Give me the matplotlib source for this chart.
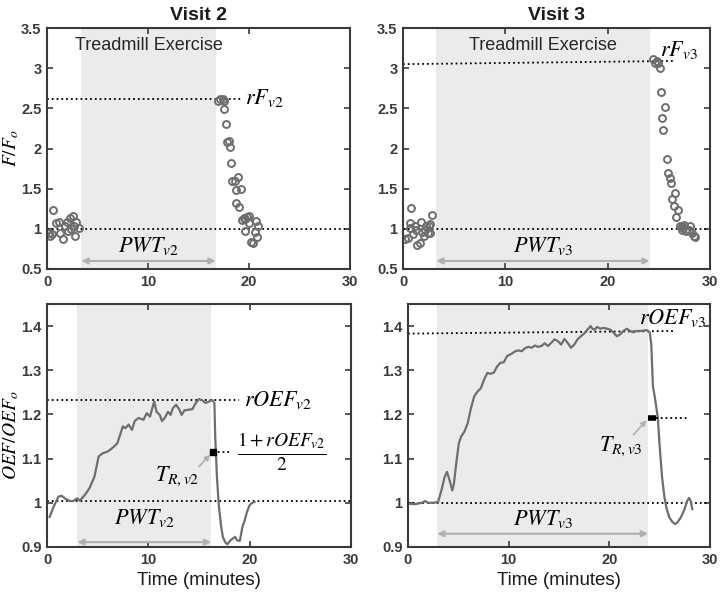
import numpy as np
import matplotlib
matplotlib.use('Agg')
import matplotlib.pyplot as plt

plt.rcParams['font.family'] = ['Liberation Sans', 'DejaVu Sans']
plt.rcParams['mathtext.fontset'] = 'stix'

# ---- data ----
# Visit 2, F/Fo scatter
f2_x = [0.16, 0.32, 0.49, 0.58, 0.91, 1.23, 1.30, 1.56, 1.79, 1.95, 2.10, 2.27, 2.40,
        2.60, 2.66, 2.76, 2.92, 3.18,
        16.9, 17.1, 17.4, 17.5, 17.5, 17.7, 17.8, 18.0, 18.1, 18.2, 18.3, 18.6, 18.7,
        18.9, 19.2, 18.7, 19.0, 19.3, 19.5, 19.6, 19.6, 19.8, 20.0, 20.0, 20.2, 20.4,
        20.6, 20.7, 20.8, 20.9]
f2_y = [0.95, 0.91, 0.93, 1.24, 1.07, 1.09, 0.95, 0.87, 1.03, 1.09, 0.97, 1.13, 1.00,
        1.16, 1.03, 0.91, 1.08, 1.01,
        2.59, 2.62, 2.62, 2.59, 2.49, 2.30, 2.08, 2.09, 2.02, 1.82, 1.59, 1.59, 1.48,
        1.65, 1.49, 1.32, 1.27, 1.11, 1.13, 0.97, 1.12, 1.15, 1.07, 1.16, 0.83, 0.82,
        0.96, 1.10, 0.90, 1.04]

# Visit 3, F/Fo scatter
f3_x = [0.16, 0.49, 0.65, 0.82, 0.72, 0.98, 1.14, 1.24, 1.37, 1.63, 1.79, 1.89, 2.02,
        2.12, 2.28, 2.45, 2.54, 2.60, 2.67, 2.87,
        24.45, 24.6, 24.8, 24.9, 25.1, 25.2, 25.6, 25.3, 25.4, 25.8, 25.9, 26.1, 26.2,
        26.6, 26.3, 26.5, 26.9, 26.7, 27.1, 27.3, 27.3, 27.4, 27.5, 27.7, 27.9, 28.0,
        28.2, 28.4, 28.5]
f3_y = [0.87, 0.89, 1.01, 1.26, 1.07, 0.93, 1.03, 0.99, 0.80, 0.82, 1.08, 0.96, 0.91,
        0.99, 1.03, 0.95, 1.03, 0.95, 1.06, 1.17,
        3.11, 3.07, 3.09, 3.06, 3.00, 2.70, 2.52, 2.38, 2.23, 1.87, 1.69, 1.63, 1.57,
        1.45, 1.37, 1.28, 1.23, 1.15, 1.04, 1.03, 0.99, 1.01, 1.05, 0.97, 0.99, 1.03,
        0.95, 0.91, 0.90]

# Visit 2, OEF/OEFo trace
o2_t = [0.26, 0.65, 1.13, 1.45, 1.77, 2.26, 2.58, 2.97, 3.23, 3.71, 4.19, 4.68, 5.10,
        5.48, 5.97, 6.29, 6.60, 6.94, 7.16, 7.48, 7.74, 8.06, 8.39, 8.65, 9.03, 9.52,
        9.84, 10.16, 10.39, 10.58, 10.81, 11.13, 11.35, 11.61, 11.94, 12.19, 12.42,
        12.74, 13.06, 13.29, 13.55, 14.03, 14.35, 14.68, 15.00, 15.32, 15.65, 15.97,
        16.29, 16.52, 16.60, 16.77, 16.94, 17.16, 17.35, 17.58, 17.80, 18.06, 18.32,
        18.55, 18.77, 19.03, 19.29, 19.52, 19.74, 20.00, 20.26, 20.48]
o2_v = [0.968, 0.991, 1.014, 1.016, 1.010, 1.004, 1.004, 1.010, 1.005, 1.017, 1.033,
        1.059, 1.105, 1.112, 1.116, 1.121, 1.127, 1.135, 1.150, 1.173, 1.169, 1.177,
        1.165, 1.185, 1.192, 1.188, 1.203, 1.195, 1.214, 1.229, 1.206, 1.199, 1.185,
        1.192, 1.206, 1.199, 1.214, 1.222, 1.211, 1.199, 1.209, 1.211, 1.212, 1.226,
        1.235, 1.232, 1.226, 1.229, 1.233, 1.226, 1.150, 1.059, 0.998, 0.950, 0.923,
        0.911, 0.906, 0.914, 0.919, 0.923, 0.915, 0.914, 0.946, 0.961, 0.980, 0.995,
        1.000, 1.002]

# Visit 3, OEF/OEFo trace
o3_t = [0.00, 0.72, 1.37, 1.69, 2.02, 2.50, 2.99, 3.32, 3.64, 3.87, 4.13, 4.40, 4.56,
        4.79, 5.05, 5.28, 5.60, 5.93, 6.25, 6.58, 6.91, 7.23, 7.56, 7.88, 8.21, 8.53,
        8.86, 9.19, 9.51, 9.84, 10.33, 10.65, 10.98, 11.30, 11.63, 11.95, 12.28, 12.61,
        12.93, 13.26, 13.58, 13.91, 14.23, 14.56, 14.89, 15.21, 15.54, 15.86, 16.19,
        16.51, 16.84, 17.17, 17.49, 17.82, 18.14, 18.31, 18.53, 18.79, 19.12, 19.45,
        19.77, 20.10, 20.42, 20.75, 21.07, 21.40, 21.73, 22.05, 22.38, 22.70, 23.19,
        23.68, 24.01, 24.17, 24.33, 24.56, 24.82, 24.98, 25.24, 25.47, 25.70, 25.96,
        26.29, 26.55, 26.78, 27.10, 27.43, 27.75, 27.92, 28.08, 28.24]
o3_v = [0.998, 0.997, 1.000, 1.004, 1.000, 1.000, 1.002, 1.028, 1.059, 1.070, 1.051,
        1.028, 1.043, 1.089, 1.135, 1.150, 1.161, 1.180, 1.214, 1.241, 1.252, 1.259,
        1.279, 1.294, 1.292, 1.295, 1.309, 1.317, 1.318, 1.332, 1.338, 1.343, 1.345,
        1.343, 1.350, 1.353, 1.351, 1.356, 1.353, 1.355, 1.361, 1.355, 1.362, 1.370,
        1.366, 1.358, 1.371, 1.362, 1.351, 1.358, 1.370, 1.377, 1.383, 1.392, 1.400,
        1.394, 1.392, 1.398, 1.394, 1.396, 1.394, 1.392, 1.385, 1.377, 1.381, 1.389,
        1.394, 1.389, 1.386, 1.389, 1.389, 1.391, 1.386, 1.358, 1.264, 1.233, 1.192,
        1.134, 1.058, 1.013, 0.986, 0.967, 0.956, 0.952, 0.956, 0.967, 0.983, 1.005,
        1.011, 1.004, 0.986]

# exercise windows (start, end) in minutes
ex2 = (3.4, 16.7)
ex3 = (3.25, 24.1)
ex2_oef = (3.0, 16.2)
ex3_oef = (2.9, 23.85)
# peak levels (left end, right end)
rF2 = (2.62, 2.62)
rF3 = (3.05, 3.09)
rOEF2 = (1.232, 1.232)
rOEF3 = (1.383, 1.389)
# recovery half-times
TR2 = 16.4
TR3 = (23.8, 24.6)

DARK = '#3a3a3a'
GRAY = '#6e6e6e'
SHADE = '#ebebeb'
ARROW = '#b0b0b0'

fig = plt.figure(figsize=(7.21, 5.94), dpi=100)
W, H = 721.0, 594.0
def box(x0, x1, y0, y1):
    return [x0 / W, 1 - y1 / H, (x1 - x0) / W, (y1 - y0) / H]

ax1 = fig.add_axes(box(47, 350, 28, 269))
ax2 = fig.add_axes(box(403, 710, 28, 269))
ax3 = fig.add_axes(box(47, 351, 304, 547))
ax4 = fig.add_axes(box(408, 710, 304, 547))

def style(ax, ylim, yticks):
    ax.set_xlim(0, 30)
    ax.set_ylim(*ylim)
    ax.set_xticks([0, 10, 20, 30])
    ax.set_yticks(yticks)
    ax.set_yticklabels(['%g' % v for v in yticks])
    for s in ax.spines.values():
        s.set_color(DARK)
        s.set_linewidth(1.5)
    ax.tick_params(direction='in', top=True, right=True, length=4, width=1.2,
                   color=DARK, labelcolor=DARK, labelsize=10.5, pad=4)
    for lab in ax.get_xticklabels() + ax.get_yticklabels():
        lab.set_fontweight('bold')

def pwt(ax, span, y_arrow, y_text, label):
    ax.annotate('', xy=(span[0], y_arrow), xytext=(span[1], y_arrow),
                arrowprops=dict(arrowstyle='<|-|>', color=ARROW, lw=1.5,
                                mutation_scale=9, shrinkA=0, shrinkB=0))
    ax.text((span[0] + span[1]) / 2, y_text, label, ha='center', va='center',
            fontsize=16)

def tr_arrow(ax, start, end):
    ax.annotate('', xy=end, xytext=start,
                arrowprops=dict(arrowstyle='-|>', color=ARROW, lw=1.2,
                                mutation_scale=8, shrinkA=0, shrinkB=0))

# ---- top row: F/Fo ----
for ax, ex, fx, fy, rF, xr, pl, title in [
        (ax1, ex2, f2_x, f2_y, rF2, 19.2, r'$PWT_{v2}$', 'Visit 2'),
        (ax2, ex3, f3_x, f3_y, rF3, 26.6, r'$PWT_{v3}$', 'Visit 3')]:
    style(ax, (0.5, 3.5), [0.5, 1, 1.5, 2, 2.5, 3, 3.5])
    ax.axvspan(ex[0], ex[1], color=SHADE, lw=0, zorder=0)
    ax.axhline(1, color='k', ls=':', lw=1.3)
    ax.plot([0, xr], rF, color='k', ls=':', lw=1.3)
    ax.plot(fx, fy, 'o', mfc='none', mec=GRAY, ms=5, mew=1.4)
    ax.text((ex[0] + ex[1]) / 2, 3.28, 'Treadmill Exercise', ha='center',
            va='center', fontsize=13, color='#262626')
    pwt(ax, ex, 0.6, 0.79, pl)
    ax.set_title(title, fontsize=14, fontweight='bold', color='#1a1a1a', pad=6)
ax1.text(19.6, 2.63, r'$rF_{v2}$', ha='left', va='center', fontsize=16)
ax2.text(25.1, 3.22, r'$rF_{v3}$', ha='left', va='center', fontsize=16)
ax1.set_ylabel(r'$F/F_o$', fontsize=14)
ax1.yaxis.set_label_coords(-0.085, 0.5)

# ---- bottom row: OEF/OEFo ----
oef_ticks = [0.9, 1, 1.1, 1.2, 1.3, 1.4]
style(ax3, (0.9, 1.45), oef_ticks)
ax3.axvspan(ex2_oef[0], ex2_oef[1], color=SHADE, lw=0, zorder=0)
ax3.axhline(1.003, color='k', ls=':', lw=1.3)
ax3.plot([0, 18.9], rOEF2, color='k', ls=':', lw=1.3)
ax3.plot(o2_t, o2_v, color=GRAY, lw=1.6)
mid2 = (1 + rOEF2[0]) / 2
ax3.plot([TR2, 18.1], [mid2, mid2], color='k', ls=':', lw=1.3)
ax3.plot([TR2], [mid2], 's', color='k', ms=4)
ax3.text(19.4, rOEF2[0], r'$rOEF_{v2}$', ha='left', va='center', fontsize=16)
ax3.text(23.2, mid2, r'$\frac{1 + rOEF_{v2}}{2}$', ha='center', va='center',
         fontsize=20)
ax3.text(12.8, 1.06, r'$T_{R,v2}$', ha='center', va='center', fontsize=16)
tr_arrow(ax3, (15.0, 1.082), (16.1, 1.109))
pwt(ax3, ex2_oef, 0.911, 0.965, r'$PWT_{v2}$')
ax3.set_ylabel(r'$OEF/OEF_o$', fontsize=14)
ax3.yaxis.set_label_coords(-0.085, 0.46)
ax3.set_xlabel('Time (minutes)', fontsize=13.5, color='#1a1a1a')

style(ax4, (0.9, 1.45), oef_ticks)
ax4.axvspan(ex3_oef[0], ex3_oef[1], color=SHADE, lw=0, zorder=0)
ax4.axhline(1.0, color='k', ls=':', lw=1.3)
ax4.plot([0, 26.6], rOEF3, color='k', ls=':', lw=1.3)
ax4.plot(o3_t, o3_v, color=GRAY, lw=1.6)
mid3 = (1 + rOEF3[0]) / 2
ax4.plot([TR3[1], 27.9], [mid3, mid3], color='k', ls=':', lw=1.3)
ax4.plot(TR3, [mid3, mid3], color='k', lw=4, solid_capstyle='butt')
ax4.text(22.9, 1.418, r'$rOEF_{v3}$', ha='left', va='center', fontsize=16)
ax4.text(21.1, 1.127, r'$T_{R,v3}$', ha='center', va='center', fontsize=16)
tr_arrow(ax4, (22.4, 1.154), (23.7, 1.187))
pwt(ax4, ex3_oef, 0.93, 0.964, r'$PWT_{v3}$')
ax4.set_xlabel('Time (minutes)', fontsize=13.5, color='#1a1a1a')

fig.savefig('out.png', dpi=100)
